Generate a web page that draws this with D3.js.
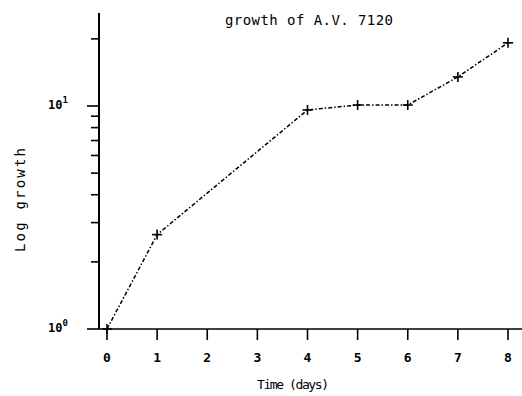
<!DOCTYPE html>
<html>
<head>
<meta charset="utf-8">
<script src="https://cdn.jsdelivr.net/npm/d3@7"></script>
<style>
  body { margin: 0; background: #fff; }
  text { font-family: "DejaVu Sans Mono", monospace; fill: #000; }
</style>
</head>
<body>
<div id="chart"></div>
<script>
// data
var days = [0, 1, 4, 5, 6, 7, 8];
var growth = [1.0, 2.65, 9.6, 10.1, 10.1, 13.5, 19.2];
var xTicks = [0, 1, 2, 3, 4, 5, 6, 7, 8];
var yMinor = [2, 3, 4, 5, 6, 7, 8, 9, 20];
var yMajor = [1, 10];
var yMajorExp = ["0", "1"];

var width = 522, height = 396;

var svg = d3.select("#chart").append("svg")
  .attr("width", width)
  .attr("height", height);

// scales
var x = d3.scaleLinear().domain([0, 8]).range([107, 508]);
var y = d3.scaleLog().domain([1, 10]).range([329, 106]);

var axisX = 99, axisY = 329;

// y axis line
svg.append("line")
  .attr("x1", axisX).attr("x2", axisX)
  .attr("y1", 13).attr("y2", axisY)
  .attr("stroke", "#000").attr("stroke-width", 2);

// x axis line
svg.append("line")
  .attr("x1", axisX).attr("x2", width)
  .attr("y1", axisY).attr("y2", axisY)
  .attr("stroke", "#000").attr("stroke-width", 1.6);

// x ticks
svg.selectAll(".xt")
  .data(xTicks)
  .enter()
  .append("line")
    .attr("x1", function(d){ return x(d) }).attr("x2", function(d){ return x(d) })
    .attr("y1", axisY).attr("y2", axisY + 11)
    .attr("stroke", "#000").attr("stroke-width", 1.6);

svg.selectAll(".xl")
  .data(xTicks)
  .enter()
  .append("text")
    .attr("x", function(d){ return x(d) })
    .attr("y", 362)
    .attr("text-anchor", "middle")
    .attr("font-size", 13)
    .style("font-weight", "bold")
    .text(function(d){ return d });

// y minor ticks
svg.selectAll(".ym")
  .data(yMinor)
  .enter()
  .append("line")
    .attr("x1", axisX - 8).attr("x2", axisX)
    .attr("y1", function(d){ return y(d) }).attr("y2", function(d){ return y(d) })
    .attr("stroke", "#000").attr("stroke-width", 1.6);

// y major ticks
svg.selectAll(".yM")
  .data(yMajor)
  .enter()
  .append("line")
    .attr("x1", axisX - 12).attr("x2", axisX)
    .attr("y1", function(d){ return y(d) }).attr("y2", function(d){ return y(d) })
    .attr("stroke", "#000").attr("stroke-width", 1.6);

var ylab = svg.selectAll(".yl")
  .data(yMajor)
  .enter()
  .append("text")
    .attr("x", 48)
    .attr("y", function(d){ return y(d) + 3 })
    .attr("font-family", "DejaVu Serif")
    .attr("font-size", 12)
    .style("font-weight", "bold");
ylab.append("tspan").text("10");
ylab.append("tspan")
  .attr("dy", -6)
  .attr("font-size", 9)
  .text(function(d, i){ return yMajorExp[i] });

// growth line
var line = d3.line()
  .x(function(d, i){ return x(days[i]) })
  .y(function(d){ return y(d) });

svg.append("path")
  .datum(growth)
  .attr("d", line)
  .attr("fill", "none")
  .attr("stroke", "#000")
  .attr("stroke-width", 1.5)
  .attr("stroke-dasharray", "4 2 1.5 2");

// + markers
var m = 5;
var marks = svg.selectAll(".mk")
  .data(growth)
  .enter()
  .append("g")
    .attr("transform", function(d, i){ return "translate(" + x(days[i]) + "," + y(d) + ")" });
marks.append("line").attr("x1", -m).attr("x2", m).attr("y1", 0).attr("y2", 0)
  .attr("stroke", "#000").attr("stroke-width", 1.6);
marks.append("line").attr("x1", 0).attr("x2", 0).attr("y1", -m).attr("y2", m)
  .attr("stroke", "#000").attr("stroke-width", 1.6);

// title and axis labels
svg.append("text")
  .attr("x", 225).attr("y", 25)
  .attr("font-size", 14)
  .attr("textLength", 168)
  .text("growth of A.V. 7120");

svg.append("text")
  .attr("x", 293).attr("y", 389)
  .attr("text-anchor", "middle")
  .attr("font-size", 13)
  .attr("textLength", 72)
  .text("Time (days)");

svg.append("text")
  .attr("transform", "translate(25,200) rotate(-90)")
  .attr("text-anchor", "middle")
  .attr("font-size", 14)
  .attr("textLength", 104)
  .text("Log growth");
</script>
</body>
</html>
